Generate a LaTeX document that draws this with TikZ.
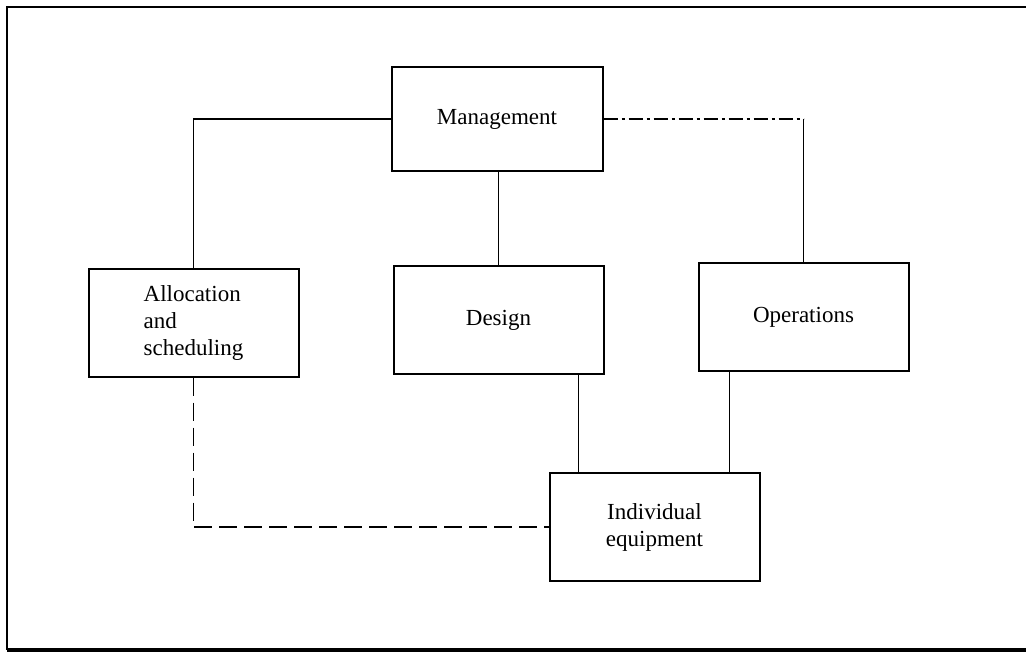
\documentclass[tikz,border=0pt]{standalone}
\usepackage{fontspec}
\setmainfont{Liberation Serif}
\usetikzlibrary{positioning}

\begin{document}
\begin{tikzpicture}[
        x=0.5pt, y=-0.5pt,
        stage/.style={draw, line width=1pt, minimum width=105pt, minimum height=54pt, inner sep=2pt,
            font=\fontsize{11.5}{13.5}\selectfont, align=center},
        link/.style={line width=0.8pt},
        loose link/.style={link, dash pattern=on 9pt off 3.5pt},
        mixed link/.style={link, dash pattern=on 7pt off 2pt on 1.5pt off 2pt},
    ]

    % Page frame
    \useasboundingbox (0,0) rectangle (1026,655);
    \draw[line width=1pt] (1026,7) -- (7,7) -- (7,650);
    \draw[line width=2pt] (7,650) -- (1026,650);

    % Activity boxes
    \node[stage, minimum width=105.5pt, minimum height=52pt] (mgmt) at (497,119) {Management};
    \node[stage, align=left] (alloc) at (193.5,322.5) {Allocation\\and\\scheduling};
    \node[stage] (design) at (498.5,320) {Design};
    \node[stage] (ops) at (803.5,317) {Operations};
    \node[stage] (indiv) at (654.5,527) {Individual\\equipment};

    % Bend and drop points
    \coordinate (opsbend) at (ops.north |- mgmt.east);
    \coordinate (designdrop) at ([xshift=15pt]indiv.north west);
    \coordinate (opsdrop) at ([xshift=-15.5pt]indiv.north east);

    % Links from management
    \draw[link] (alloc.north) |- (mgmt.west);
    \draw[link] (design.north |- mgmt.south) -- (design.north);
    \draw[mixed link] (mgmt.east) -- (opsbend);
    \draw[link] (opsbend) -- (ops.north);

    % Links to individual equipment
    \draw[link] (design.south -| designdrop) -- (designdrop);
    \draw[link] (ops.south -| opsdrop) -- (opsdrop);
    \draw[loose link] (alloc.south) |- (indiv.west);

\end{tikzpicture}
\end{document}
